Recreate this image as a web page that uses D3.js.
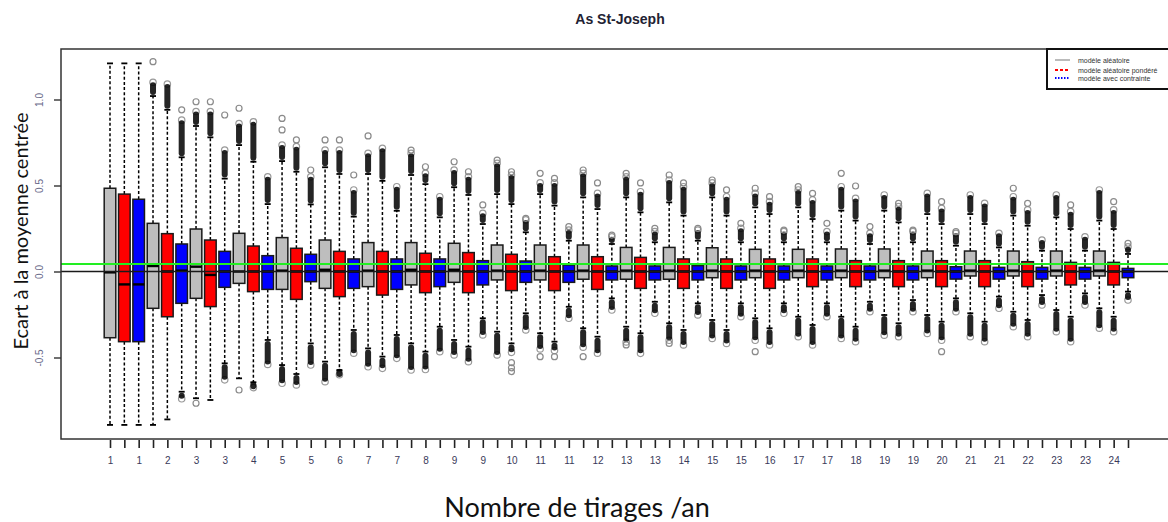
<!DOCTYPE html>
<html>
<head>
<meta charset="utf-8">
<script src="https://cdn.jsdelivr.net/npm/d3@7"></script>
<style>
  body { margin: 0; background: #fff; }
  svg { display: block; }
</style>
</head>
<body>
<svg id="chart" width="1168" height="522"></svg>
<script>

// groups (nombre de tirages / an) and the three models, boxes go g1 grey, g1 red, g1 blue, g2 grey ...
var groups = d3.range(1, 25)
var models = ["modèle aléatoire", "modèle aléatoire pondéré", "modèle avec contrainte"]
var modelColors = ["#bebebe", "#ff0000", "#0000ff"]

// box stats, 72 values each
var q3 = [0.484,0.45,0.42, 0.28,0.22,0.16, 0.247,0.183,0.117, 0.222,0.148,0.092, 0.197,0.135,0.10, 0.183,0.117,0.073,
  0.168,0.117,0.073, 0.168,0.106,0.073, 0.164,0.11,0.063, 0.154,0.10,0.061, 0.154,0.086,0.038, 0.154,0.086,0.032,
  0.14,0.082,0.032, 0.14,0.073,0.034, 0.138,0.073,0.032, 0.129,0.073,0.032, 0.129,0.073,0.032, 0.131,0.063,0.032,
  0.131,0.063,0.032, 0.119,0.063,0.028, 0.119,0.063,0.024, 0.119,0.057,0.024, 0.119,0.053,0.024, 0.119,0.053,0.018]

var med = [-0.005,-0.075,-0.075, 0.032,0.0,0.005, 0.028,-0.02,0.0, 0.0,0.0,0.0, 0.005,0.0,0.0, 0.01,0.0,0.0,
  0.005,0.0,0.0, 0.01,0.0,0.0, 0.01,0.0,0.0, 0.005,0.0,0.0, 0.005,0.0,0.0, 0.005,0.0,0.0,
  0.005,0.0,0.0, 0.005,0.0,0.0, 0.005,0.0,0.0, 0.005,0.0,0.0, 0.005,0.0,0.0, 0.005,0.0,0.0,
  0.005,0.0,0.0, 0.005,0.0,0.0, 0.005,0.0,0.0, 0.005,0.0,0.0, 0.005,0.0,0.0, 0.005,0.0,0.0]

var q1 = [-0.385,-0.408,-0.408, -0.214,-0.263,-0.185, -0.156,-0.204,-0.092, -0.069,-0.117,-0.104, -0.104,-0.162,-0.059, -0.098,-0.146,-0.098,
  -0.088,-0.137,-0.104, -0.078,-0.123,-0.088, -0.063,-0.123,-0.078, -0.049,-0.111,-0.063, -0.049,-0.111,-0.063, -0.045,-0.104,-0.049,
  -0.045,-0.098,-0.049, -0.045,-0.098,-0.049, -0.036,-0.098,-0.049, -0.036,-0.098,-0.049, -0.036,-0.088,-0.049, -0.036,-0.088,-0.049,
  -0.036,-0.088,-0.049, -0.036,-0.088,-0.044, -0.026,-0.088,-0.044, -0.026,-0.088,-0.044, -0.026,-0.078,-0.044, -0.026,-0.078,-0.036]

var wHi = [1.21,1.21,1.21, 1.02,0.94,0.664, 0.846,0.78,0.54, 0.735,0.638,0.392, 0.642,0.58,0.39, 0.606,0.567,0.319,
  0.567,0.527,0.353, 0.561,0.508,0.315, 0.49,0.445,0.276, 0.45,0.392,0.228, 0.45,0.383,0.179, 0.431,0.363,0.16,
  0.431,0.344,0.17, 0.402,0.325,0.179, 0.431,0.325,0.17, 0.373,0.334,0.17, 0.373,0.305,0.17, 0.354,0.296,0.16,
  0.354,0.286,0.17, 0.334,0.276,0.15, 0.334,0.276,0.14, 0.325,0.266,0.121, 0.315,0.247,0.121, 0.296,0.247,0.102]

var wLo = [-0.892,-0.892,-0.892, -0.892,-0.86,-0.699, -0.737,-0.747,-0.534, -0.621,-0.644,-0.398, -0.544,-0.596,-0.418, -0.524,-0.573,-0.34,
  -0.447,-0.495,-0.369, -0.418,-0.466,-0.321, -0.398,-0.437,-0.272, -0.35,-0.418,-0.243, -0.359,-0.408,-0.205, -0.33,-0.379,-0.156,
  -0.321,-0.359,-0.176, -0.301,-0.34,-0.185, -0.282,-0.34,-0.185, -0.272,-0.33,-0.185, -0.263,-0.311,-0.185, -0.263,-0.321,-0.176,
  -0.253,-0.301,-0.166, -0.253,-0.292,-0.156, -0.243,-0.292,-0.146, -0.234,-0.282,-0.137, -0.224,-0.263,-0.127, -0.214,-0.263,-0.117]

// outliers: the dense clouds (from the whisker end out to this value) and the few loose points
var hiTop = [null,null,null, 1.10,1.09,0.88, 0.93,0.93,0.706, 0.86,0.87,0.551, 0.735,0.726,0.551, 0.706,0.706,0.474,
  0.687,0.716,0.493, 0.687,0.571,0.435, 0.59,0.551,0.338, 0.629,0.561,0.30, 0.515,0.515,0.241, 0.571,0.454,0.202,
  0.551,0.464,0.232, 0.532,0.493,0.241, 0.515,0.435,0.251, 0.454,0.406,0.232, 0.474,0.416,0.232, 0.493,0.425,0.222,
  0.445,0.377,0.232, 0.454,0.367,0.222, 0.445,0.396,0.222, 0.435,0.358,0.183, 0.445,0.348,0.202, 0.474,0.358,0.144]

var loBot = [null,null,null, null,null,-0.74, null,null,-0.63, null,-0.675,-0.54, -0.65,-0.66,-0.544, -0.641,-0.60,-0.475,
  -0.554,-0.563,-0.505, -0.573,-0.57,-0.466, -0.485,-0.524,-0.369, -0.485,-0.47,-0.34, -0.45,-0.46,-0.272, -0.44,-0.475,-0.224,
  -0.41,-0.476,-0.243, -0.40,-0.427,-0.253, -0.389,-0.418,-0.263, -0.40,-0.427,-0.243, -0.379,-0.427,-0.263, -0.389,-0.408,-0.234,
  -0.37,-0.379,-0.234, -0.36,-0.40,-0.234, -0.379,-0.408,-0.214, -0.321,-0.379,-0.195, -0.35,-0.408,-0.195, -0.33,-0.35,-0.166]

var farHi = [[],[],[], [1.22],[],[0.94], [0.987],[0.987],[0.91], [0.949],[],[], [0.89,0.823],[0.765],[0.59], [0.765],[0.765],[0.561],
  [0.788],[],[], [0.706],[0.609],[], [0.638],[0.58],[0.387], [0.648],[0.58],[0.309], [0.571],[0.542],[0.261], [0.59],[0.515],[0.212],
  [0.571],[0.515],[0.251], [0.561],[0.515],[0.251], [0.532],[0.474],[0.28], [0.484],[0.435],[0.241], [0.493],[0.454],[0.28], [0.571],[0.497],[0.261],
  [],[0.396],[0.241], [],[0.406],[0.232], [],[],[], [0.484],[0.396],[], [],[0.387],[], [],[0.406],[0.164]]

var farLo = [[],[],[], [],[],[], [-0.766],[],[], [-0.689],[],[], [],[],[], [],[],[],
  [],[],[], [],[],[], [],[],[], [],[-0.53,-0.56,-0.582],[], [-0.495],[-0.495],[], [-0.495],[],[],
  [-0.427],[],[], [-0.418],[],[], [],[],[], [-0.466],[],[], [],[],[], [],[],[],
  [],[],[], [],[-0.466],[], [],[],[], [],[],[], [],[],[], [],[],[]]

var refLine = 0.044   // green line

// ------------------------------------------------------------------

var svg = d3.select("#chart")

// careful: "top" is taken by window.top
var plotLeft = 61, plotTop = 49, plotBottom = 439, plotRight = 1180

var x = d3.scaleLinear().domain([1, 72]).range([110, 1128])
var y = d3.scaleLinear().domain([0, 1]).range([271.5, 99.5])

var half = 5.8   // half box width
var capHalf = 3

var boxes = d3.range(72).map(function(i){
  return {
    i: i, pos: i + 1,
    model: i % 3, group: groups[Math.floor(i / 3)],
    q1: q1[i], med: med[i], q3: q3[i], lo: wLo[i], hi: wHi[i],
    hiTop: hiTop[i], loBot: loBot[i], farHi: farHi[i], farLo: farLo[i]
  }
})

svg.append("rect").attr("width", 1168).attr("height", 522).attr("fill", "#fff")

// title
svg.append("text")
  .attr("x", 620).attr("y", 24)
  .attr("text-anchor", "middle")
  .style("font-family", "Liberation Sans, Arial, sans-serif")
  .style("font-weight", "bold").style("font-size", "14px")
  .attr("fill", "#222233")
  .text("As St-Joseph")

var g = svg.append("g")

// whiskers
var wh = g.selectAll("g.box").data(boxes).enter().append("g").attr("class", "box")

wh.append("line")
  .attr("x1", function(d){ return x(d.pos) }).attr("x2", function(d){ return x(d.pos) })
  .attr("y1", function(d){ return y(d.q3) }).attr("y2", function(d){ return y(d.hi) })
  .attr("stroke", "#000").attr("stroke-width", 1.5).attr("stroke-dasharray", "3,2.2")

wh.append("line")
  .attr("x1", function(d){ return x(d.pos) }).attr("x2", function(d){ return x(d.pos) })
  .attr("y1", function(d){ return y(d.q1) }).attr("y2", function(d){ return y(d.lo) })
  .attr("stroke", "#000").attr("stroke-width", 1.5).attr("stroke-dasharray", "3,2.2")

// staples
wh.append("line")
  .attr("x1", function(d){ return x(d.pos) - capHalf }).attr("x2", function(d){ return x(d.pos) + capHalf })
  .attr("y1", function(d){ return y(d.hi) }).attr("y2", function(d){ return y(d.hi) })
  .attr("stroke", "#000").attr("stroke-width", 1.8)
wh.append("line")
  .attr("x1", function(d){ return x(d.pos) - capHalf }).attr("x2", function(d){ return x(d.pos) + capHalf })
  .attr("y1", function(d){ return y(d.lo) }).attr("y2", function(d){ return y(d.lo) })
  .attr("stroke", "#000").attr("stroke-width", 1.8)

// boxes
wh.append("rect")
  .attr("x", function(d){ return x(d.pos) - half })
  .attr("width", half * 2)
  .attr("y", function(d){ return y(d.q3) })
  .attr("height", function(d){ return y(d.q1) - y(d.q3) })
  .attr("fill", function(d){ return modelColors[d.model] })
  .attr("stroke", "#1a1a1a").attr("stroke-width", 1.5)

wh.append("line")
  .attr("x1", function(d){ return x(d.pos) - half }).attr("x2", function(d){ return x(d.pos) + half })
  .attr("y1", function(d){ return y(d.med) }).attr("y2", function(d){ return y(d.med) })
  .attr("stroke", "#000").attr("stroke-width", 2.4)

// dense outlier clouds, grey rim at the far end then the black core
var hiCloud = wh.filter(function(d){ return d.hiTop != null })
hiCloud.append("circle")
  .attr("cx", function(d){ return x(d.pos) }).attr("cy", function(d){ return y(d.hiTop) })
  .attr("r", 3.2).attr("fill", "none").attr("stroke", "#999").attr("stroke-width", 1.2)
hiCloud.append("line")
  .attr("x1", function(d){ return x(d.pos) }).attr("x2", function(d){ return x(d.pos) })
  .attr("y1", function(d){ return y(d.hi) - 4 }).attr("y2", function(d){ return y(d.hiTop) + 3 })
  .attr("stroke", "#000").attr("stroke-width", 6).attr("stroke-linecap", "round").attr("opacity", 0.85)

var loCloud = wh.filter(function(d){ return d.loBot != null })
loCloud.append("circle")
  .attr("cx", function(d){ return x(d.pos) }).attr("cy", function(d){ return y(d.loBot) })
  .attr("r", 3.2).attr("fill", "none").attr("stroke", "#999").attr("stroke-width", 1.2)
loCloud.append("line")
  .attr("x1", function(d){ return x(d.pos) }).attr("x2", function(d){ return x(d.pos) })
  .attr("y1", function(d){ return y(d.lo) + 4 }).attr("y2", function(d){ return y(d.loBot) - 3 })
  .attr("stroke", "#000").attr("stroke-width", 6).attr("stroke-linecap", "round").attr("opacity", 0.85)

// loose outliers
wh.selectAll("circle.hi").data(function(d){ return d.farHi.map(function(v){ return {pos: d.pos, v: v} }) })
  .enter().append("circle").attr("class", "hi")
  .attr("cx", function(d){ return x(d.pos) }).attr("cy", function(d){ return y(d.v) })
  .attr("r", 3).attr("fill", "none").attr("stroke", "#8a8a8a").attr("stroke-width", 1.2)

wh.selectAll("circle.lo").data(function(d){ return d.farLo.map(function(v){ return {pos: d.pos, v: v} }) })
  .enter().append("circle").attr("class", "lo")
  .attr("cx", function(d){ return x(d.pos) }).attr("cy", function(d){ return y(d.v) })
  .attr("r", 3).attr("fill", "none").attr("stroke", "#8a8a8a").attr("stroke-width", 1.2)

// abline 0 and the green reference
svg.append("line")
  .attr("x1", plotLeft).attr("x2", plotRight).attr("y1", y(0)).attr("y2", y(0))
  .attr("stroke", "#1a1a1a").attr("stroke-width", 1.6)
svg.append("line")
  .attr("x1", plotLeft).attr("x2", plotRight).attr("y1", y(refLine)).attr("y2", y(refLine))
  .attr("stroke", "#22ee22").attr("stroke-width", 2)

// plot frame
svg.append("rect")
  .attr("x", plotLeft).attr("y", plotTop).attr("width", plotRight - plotLeft).attr("height", plotBottom - plotTop)
  .attr("fill", "none").attr("stroke", "#333").attr("stroke-width", 1.5)

// x axis
var names = boxes.map(function(d){ return d.group })
var xAxis = d3.axisBottom(x)
  .tickValues(d3.range(1, 73))
  .tickSize(8).tickPadding(9)
  .tickFormat(function(d, i){ return i % 2 === 0 ? names[i] : "" })

var xa = svg.append("g").attr("transform", "translate(0," + (plotBottom + 1) + ")").call(xAxis)
xa.select(".domain").remove()
xa.selectAll(".tick line").attr("stroke", "#222").attr("stroke-width", 1.6)
xa.selectAll(".tick text")
  .style("font-family", "Liberation Sans, Arial, sans-serif").style("font-size", "10px")
  .attr("fill", "#3a3a5a")

// y axis
var yAxis = d3.axisLeft(y)
  .tickValues([-0.5, 0, 0.5, 1])
  .tickSize(7)
  .tickFormat(function(d){ return d.toFixed(1) })

var ya = svg.append("g").attr("transform", "translate(" + plotLeft + ",0)").call(yAxis)
ya.select(".domain").remove()
ya.selectAll(".tick line").attr("stroke", "#333").attr("stroke-width", 1.4)
ya.selectAll(".tick text")
  .attr("transform", "rotate(-90)")
  .attr("x", 0).attr("y", -18).attr("dy", 0)
  .attr("text-anchor", "middle")
  .style("font-family", "Liberation Sans, Arial, sans-serif").style("font-size", "10px")
  .attr("fill", "#6a6a8a")

// axis titles
svg.append("text")
  .attr("transform", "translate(28,231) rotate(-90)")
  .attr("text-anchor", "middle")
  .style("font-family", "Lato, Open Sans, sans-serif").style("font-size", "20px")
  .attr("fill", "#111")
  .text("Ecart à la moyenne centrée")

svg.append("text")
  .attr("x", 577).attr("y", 517)
  .attr("text-anchor", "middle")
  .style("font-family", "Lato, Open Sans, sans-serif").style("font-size", "27px")
  .attr("fill", "#111")
  .text("Nombre de tirages /an")

// legend
var leg = svg.append("g")
leg.append("rect")
  .attr("x", 1047).attr("y", plotTop).attr("width", 160).attr("height", 40)
  .attr("fill", "#fff").attr("stroke", "#111").attr("stroke-width", 2)

var legDash = [null, "3,2", "1.5,1.5"]
var legLineColors = ["#bbbbbb", "#ff0000", "#0000ff"]
var legY = [60, 70, 78]

var li = leg.selectAll("g.item").data(models).enter().append("g").attr("class", "item")
li.append("line")
  .attr("x1", 1055).attr("x2", 1070)
  .attr("y1", function(d, i){ return legY[i] }).attr("y2", function(d, i){ return legY[i] })
  .attr("stroke", function(d, i){ return legLineColors[i] })
  .attr("stroke-width", 2)
  .attr("stroke-dasharray", function(d, i){ return legDash[i] })
li.append("text")
  .attr("x", 1078).attr("y", function(d, i){ return legY[i] + 2.5 })
  .style("font-family", "Liberation Sans, Arial, sans-serif").style("font-size", "7px")
  .attr("fill", "#333")
  .text(function(d){ return d })

</script>
</body>
</html>
